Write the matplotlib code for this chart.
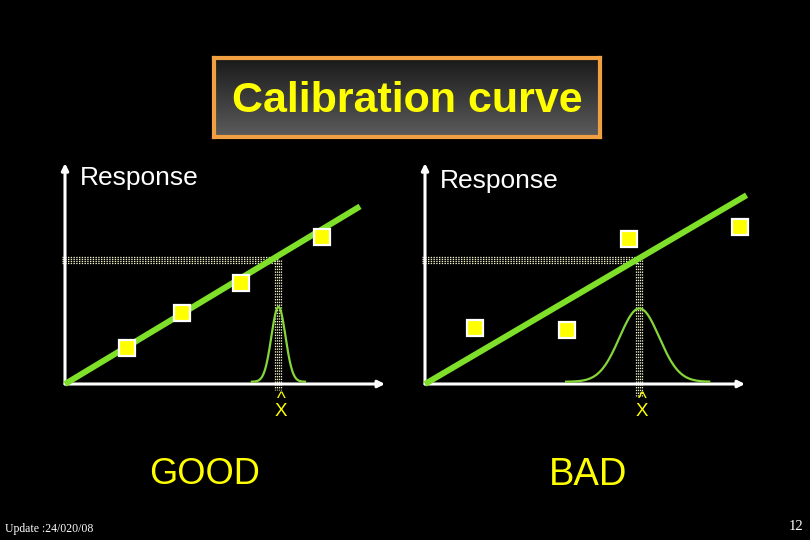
import numpy as np
import matplotlib
matplotlib.use("Agg")
import matplotlib.pyplot as plt

plt.rcParams['font.family'] = ['Liberation Sans', 'DejaVu Sans']

# calibration standards (concentration, response)
good_x = [1.93, 3.67, 5.50, 8.04]
good_y = [1.12, 2.21, 3.15, 4.60]
bad_x = [1.56, 4.45, 6.38, 9.84]
bad_y = [1.76, 1.69, 4.52, 4.90]

# fitted calibration lines (end point, starting at origin)
good_fit = [9.22, 5.55]
bad_fit = [10.05, 5.90]

# unknown sample: measured response and resulting estimate
sample_response = 3.875
good_xhat = 6.67
bad_xhat = 6.70

# shape of the estimate distribution (sigma, height, half range left/right)
good_dist = dict(sigma=0.22, height=2.34, lo=0.83, hi=0.83)
bad_dist = dict(sigma=0.62, height=2.29, lo=2.29, hi=2.18)

panel_labels = ["GOOD", "BAD"]
title = "Calibration curve"

GREEN = '#7fe02a'
YELLOW = '#ffff00'
DOTS = '#f2f2c8'

fig = plt.figure(figsize=(8.1, 5.4), dpi=100, facecolor='black')
W, H = 810.0, 540.0


def dotted_band(ax, xs, ys, vertical=False):
    # imitates the stippled guide line with a few rows of 1px dots
    step = 2.0 / 32
    for k in (-1.5, -0.5, 0.5, 1.5):
        if vertical:
            ax.plot(np.array(xs) + k * step, ys, color=DOTS, lw=0.9,
                    linestyle=(0, (1.1, 1.1)), solid_capstyle='butt', clip_on=False, zorder=2)
        else:
            ax.plot(xs, np.array(ys) + k * step, color=DOTS, lw=0.9,
                    linestyle=(0, (1.1, 1.1)), solid_capstyle='butt', clip_on=False, zorder=2)


def panel(left_px, px, py, fit, xhat, dist, resp_y, vline_bottom):
    ax = fig.add_axes([left_px / W, (H - 384) / H, 320 / W, 224 / H])
    ax.set_xlim(0, 10)
    ax.set_ylim(0, 7)
    ax.axis('off')
    ax.set_facecolor('black')

    # axes with arrows
    ax.annotate('', xy=(10.0, 0), xytext=(0, 0),
                arrowprops=dict(arrowstyle='-|>', color='white', lw=2.2,
                                mutation_scale=10, shrinkA=0, shrinkB=0),
                annotation_clip=False)
    ax.annotate('', xy=(0, 6.9), xytext=(0, 0),
                arrowprops=dict(arrowstyle='-|>', color='white', lw=2.2,
                                mutation_scale=10, shrinkA=0, shrinkB=0),
                annotation_clip=False)

    dotted_band(ax, [-0.08, xhat], [sample_response, sample_response])
    dotted_band(ax, [xhat, xhat], [sample_response, vline_bottom], vertical=True)

    ax.plot([0, fit[0]], [0, fit[1]], color=GREEN, lw=4.3, solid_capstyle='butt',
            zorder=3, clip_on=False)

    gx = np.linspace(xhat - dist['lo'], xhat + dist['hi'], 200)
    gy = 0.07 + dist['height'] * np.exp(-0.5 * ((gx - xhat) / dist['sigma']) ** 2)
    ax.plot(gx, gy, color='#86d63a', lw=1.6, zorder=3)

    ax.plot(px, py, 's', ms=11.5, mfc=YELLOW, mec='white', mew=1.6,
            zorder=4, clip_on=False)

    ax.text(0.47, resp_y, 'Response', color='white', fontsize=19,
            ha='left', va='center')
    ax.text(xhat + 0.08, -1.0, '^\nX', color=YELLOW, fontsize=13.5,
            ha='center', va='baseline', linespacing=0.62, clip_on=False)
    return ax


panel(65, good_x, good_y, good_fit, good_xhat, good_dist, 6.44, -0.19)
panel(425, bad_x, bad_y, bad_fit, bad_xhat, bad_dist, 6.34, -0.37)

# title box with gradient fill
tax = fig.add_axes([214 / W, (H - 137) / H, 386 / W, 79 / H])
grad = np.linspace(0, 1, 100).reshape(-1, 1)
tax.imshow(grad, cmap=matplotlib.colors.LinearSegmentedColormap.from_list(
    'g', ['#1a1a1a', '#5c5c5c']), aspect='auto', extent=(0, 1, 0, 1), origin='upper')
tax.set_xticks([])
tax.set_yticks([])
for s in tax.spines.values():
    s.set_color('#f0a040')
    s.set_linewidth(3)
tax.text(0.5, 0.46, title, color=YELLOW, fontsize=31, fontweight='bold',
         ha='center', va='center', transform=tax.transAxes)

fig.text(205 / W, 1 - 475 / H, panel_labels[0], color=YELLOW, fontsize=26,
         ha='center', va='center')
fig.text(588 / W, 1 - 475 / H, panel_labels[1], color=YELLOW, fontsize=27.5,
         ha='center', va='center')

fig.text(5 / W, 1 - 529 / H, 'Update :24/020/08', color='white', fontsize=8.5,
         family='Liberation Serif', ha='left', va='center')
fig.text(803 / W, 1 - 527 / H, '12', color='white', fontsize=10.5,
         family='Liberation Serif', ha='right', va='center')

fig.savefig('out.png', dpi=100, facecolor='black')
